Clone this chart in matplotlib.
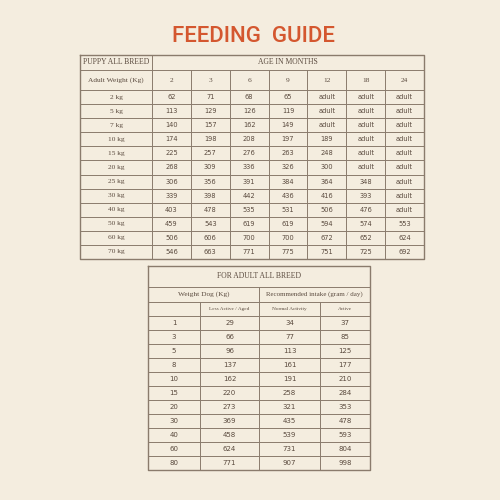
import matplotlib
matplotlib.use("Agg")
import matplotlib.pyplot as plt

title = "FEEDING  GUIDE"
ages = ["2", "3", "6", "9", "12", "18", "24"]
puppy_weights = ["2 kg", "5 kg", "7 kg", "10 kg", "15 kg", "20 kg", "25 kg", "30 kg", "40 kg", "50 kg", "60 kg", "70 kg"]
m2 = [62, 113, 140, 174, 225, 268, 306, 339, 403, 459, 506, 546]
m3 = [71, 129, 157, 198, 257, 309, 356, 398, 478, 543, 606, 663]
m6 = [68, 126, 162, 208, 276, 336, 391, 442, 535, 619, 700, 771]
m9 = [65, 119, 149, 197, 263, 326, 384, 436, 531, 619, 700, 775]
m12 = ["adult", "adult", "adult", 189, 248, 300, 364, 416, 506, 594, 672, 751]
m18 = ["adult", "adult", "adult", "adult", "adult", "adult", 348, 393, 476, 574, 652, 725]
m24 = ["adult"] * 9 + [553, 624, 692]

adult_weights = [1, 3, 5, 8, 10, 15, 20, 30, 40, 60, 80]
less_active = [29, 66, 96, 137, 162, 220, 273, 369, 458, 624, 771]
normal = [34, 77, 113, 161, 191, 258, 321, 435, 539, 731, 907]
active = [37, 85, 125, 177, 210, 284, 353, 478, 593, 804, 998]

bg = "#f4eddf"
lc = "#8a7b6c"
tc = "#5a4a3e"
serif = "Liberation Serif"

fig = plt.figure(figsize=(5, 5), dpi=100, facecolor=bg)
ax = fig.add_axes([0, 0, 1, 1])
ax.set_xlim(0, 500); ax.set_ylim(500, 0); ax.axis("off")
ax.set_facecolor(bg)

ax.text(253, 37, title, ha="center", va="center", fontsize=16, color="#d4572f",
        family="Roboto", fontweight="medium")

def hl(y, x0, x1): ax.plot([x0, x1], [y, y], color=lc, lw=0.7)
def vl(x, y0, y1): ax.plot([x, x], [y0, y1], color=lc, lw=0.7)

# puppy table
X0, X1, XC = 80, 424, 152
cw = (X1 - XC) / 7
yt, yh, yd = 55, 70, 90
rh = (259 - yd) / 12
Yb = yd + 12 * rh
ax.plot([X0, X1, X1, X0, X0], [yt, yt, Yb, Yb, yt], color=lc, lw=1.0)
hl(yh, X0, X1)
for i in range(13): hl(yd + i * rh, X0, X1)
vl(XC, yt, Yb)
for j in range(1, 7): vl(XC + j * cw, yh, Yb)
ax.text((X0 + XC) / 2, (yt + yh) / 2, "PUPPY ALL BREED", ha="center", va="center", fontsize=5.5, color=tc, family=serif)
ax.text((XC + X1) / 2, (yt + yh) / 2, "AGE IN MONTHS", ha="center", va="center", fontsize=5.5, color=tc, family=serif)
ax.text((X0 + XC) / 2, (yh + yd) / 2, "Adult Weight (Kg)", ha="center", va="center", fontsize=5.3, color=tc, family=serif)
for j, a in enumerate(ages):
    ax.text(XC + (j + .5) * cw, (yh + yd) / 2, a, ha="center", va="center", fontsize=5.3, color=tc, family=serif)
cols = [m2, m3, m6, m9, m12, m18, m24]
for i, w in enumerate(puppy_weights):
    y = yd + (i + .5) * rh
    ax.text((X0 + XC) / 2, y, w, ha="center", va="center", fontsize=5.3, color=tc, family=serif)
    for j, c in enumerate(cols):
        ax.text(XC + (j + .5) * cw, y, str(c[i]), ha="center", va="center", fontsize=4.8, color=tc)

# adult table
A = [148, 200, 259, 320, 370]
at, ah, asub, ad = 266, 287, 302, 316
arh = (470 - ad) / 11
Ab = ad + 11 * arh
ax.plot([A[0], A[4], A[4], A[0], A[0]], [at, at, Ab, Ab, at], color=lc, lw=1.0)
hl(ah, A[0], A[4]); hl(asub, A[0], A[4])
for i in range(12): hl(ad + i * arh, A[0], A[4])
vl(A[2], ah, Ab); vl(A[1], asub, Ab); vl(A[3], asub, Ab)
ax.text((A[0] + A[4]) / 2, (at + ah) / 2, "FOR ADULT ALL BREED", ha="center", va="center", fontsize=5.5, color=tc, family=serif)
ax.text((A[0] + A[2]) / 2, (ah + asub) / 2, "Weight Dog (Kg)", ha="center", va="center", fontsize=5.3, color=tc, family=serif)
ax.text((A[2] + A[4]) / 2, (ah + asub) / 2, "Recommended intake (gram / day)", ha="center", va="center", fontsize=5.0, color=tc, family=serif)
for k, s in enumerate(["Less Active / Aged", "Normal Activity", "Active"]):
    ax.text((A[k + 1] + A[k + 2]) / 2, (asub + ad) / 2, s, ha="center", va="center", fontsize=3.8, color=tc, family=serif)
for i in range(11):
    y = ad + (i + .5) * arh
    for k, v in enumerate([adult_weights[i], less_active[i], normal[i], active[i]]):
        ax.text((A[k] + A[k + 1]) / 2, y, str(v), ha="center", va="center", fontsize=5, color=tc)

fig.savefig("out.png", dpi=100, facecolor=bg)
